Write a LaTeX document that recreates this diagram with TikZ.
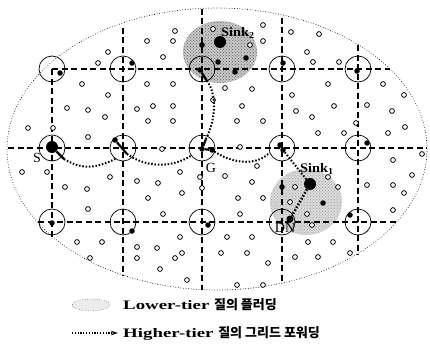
\documentclass[tikz,border=0pt]{standalone}
\usepackage{fontspec}
\setmainfont{Liberation Serif}
\newfontfamily\krfont{Noto Sans CJK KR}
\newfontfamily\widefont{Liberation Serif}[FakeStretch=1.45]
\newfontfamily\sinkfont{Liberation Serif}[FakeStretch=1.1]
\usetikzlibrary{arrows.meta,patterns,shapes.geometric}

\begin{document}
\begin{tikzpicture}[x=1pt,y=-1pt,
    grid/.style={dash pattern=on 6pt off 3.5pt,line width=1.5pt},
    cell/.style={circle,draw,line width=0.7pt,minimum size=26pt,inner sep=0pt},
    host/.style={circle,fill=black,minimum size=5.5pt,inner sep=0pt},
    sink/.style={circle,fill=black,minimum size=12pt,inner sep=0pt},
    hop/.style={line width=2pt,dash pattern=on 1.5pt off 1.8pt},
    stub/.style={line width=2.2pt},
    lbl/.style={font=\fontsize{14}{14}\selectfont,inner sep=0pt},
    snk/.style={anchor=west,inner sep=0pt,font=\fontsize{13}{13}\sinkfont\bfseries},
    leg/.style={anchor=west,inner sep=0pt,font=\fontsize{13}{13}\selectfont\bfseries}]
    \useasboundingbox (0,0) rectangle (430,345);

    \draw[line width=0.9pt,line cap=round,dash pattern=on 0pt off 2.6pt] (217,149) ellipse [x radius=210,y radius=141];

    \fill[gray!45] (220,52) ellipse [x radius=37,y radius=31];
    \fill[pattern=crosshatch dots,pattern color=gray!80!black] (220,52) ellipse [x radius=37,y radius=31];
    \fill[gray!30] (306,202) ellipse [x radius=36,y radius=33];
    \fill[pattern=crosshatch dots,pattern color=gray!70] (306,202) ellipse [x radius=36,y radius=33];

    \draw[grid] (52,69) -- (52,237);
    \draw[grid] (123,28) -- (123,276);
    \draw[grid] (202,9) -- (202,290);
    \draw[grid] (282,18) -- (282,282);
    \draw[grid] (358,45) -- (358,255);
    \draw[grid] (52,69) -- (390,69);
    \draw[grid] (8,148) -- (427,148);
    \draw[grid] (38,222) -- (398,222);

    \foreach \x [count=\i] in {52,123,202,282,358}
      \foreach \y [count=\j] in {69,148,222}
        \node[cell] (c-\j-\i) at (\x,\y) {};

    \foreach \x/\y in {175/31,147/41,173/41,108/52,163/57,98/63,82/84,147/84,173/84,108/95,
        67/108,88/110,105/117,137/109,153/106,173/106,148/121,173/121,28/128,53/128,88/137,
        213/100,225/88,237/121,242/106,213/29,263/25,291/32,319/34,263/41,250/45,307/52,
        313/62,339/62,252/89,328/84,383/84,404/95,292/95,296/111,334/106,367/105,392/111,
        263/121,312/117,405/127,318/133,344/133,388/133,356/123,240/147,
        22/172,47/172,65/187,87/189,110/177,137/181,158/183,180/172,182/193,148/198,88/209,
        163/214,77/242,102/242,90/258,137/247,157/248,137/258,180/237,182/253,175/258,
        160/269,187/280,162/149,200/177,202/188,257/166,225/176,252/182,238/198,263/198,
        240/214,393/160,422/154,412/175,367/185,393/185,404/193,393/210,227/237,252/237,
        221/253,247/253,268/263,295/257,318/257,308/242,333/242,350/253,237/285,263/285,
        295/187,290/202,307/214,312/225,328/177,338/187}
      \draw[line width=0.8pt,fill=white] (\x,\y) circle (2.4pt);

    \foreach \x/\y [count=\k] in {60/73,132/63,283/63,357/71,367/143,52/223,132/231,208/225,
        350/215,202/45,218/62,235/72,246/58,282/187,323/203,280/145}
      \node[host] (h\k) at (\x,\y) {};

    \node[sink] (s) at (52,147) {};
    \node[sink] (k2) at (220,42) {};
    \node[sink] (k1) at (310,184) {};
    \node[host] (a) at (115,140) {};
    \node[host] (g) at (202,149) {};
    \node[host] (g2) at (212,150) {};
    \node[host] (b) at (283,150) {};
    \node[host] (t) at (200,70) {};
    \node[host,minimum size=7pt] (dn) at (290,219) {};

    \coordinate (s1) at (64,159);
    \coordinate (a1) at (127,154);
    \coordinate (g1) at (206,139);
    \coordinate (t1) at (207,81);
    \draw[stub] (s) -- (s1);
    \draw[stub] (a) -- (a1);
    \draw[stub] (g) -- (g2);
    \draw[stub] (g) -- (g1);
    \draw[stub] (t) -- (t1);
    \draw[hop] (s1) .. controls (85,172) and (100,166) .. (c-2-2.235);
    \draw[hop] (a1) .. controls (150,170) and (175,166) .. (c-2-3.215);
    \draw[hop] (g2) .. controls (235,165) and (258,165) .. (c-2-4.200);
    \draw[hop] (g1) .. controls (216,118) and (217,95) .. (t1);
    \draw[hop] (b) -- (k1);
    \draw[hop,line width=2.6pt] (k1) -- (dn);

    \node[lbl] (sl) at (37,158) {S};
    \node[lbl] (gl) at (211,168) {G};
    \node[lbl] (dl) at (285,228) {DN};
    \node[snk] (k2l) at (221,33) {Sink\textsubscript{2}};
    \node[snk] (k1l) at (300,169) {Sink\textsubscript{1}};

    \node[ellipse,draw,dotted,fill=gray!15,minimum width=38pt,minimum height=12pt] (lk) at (91,305) {};
    \node[leg] (lt) at (123,305) {\widefont Lower-tier \krfont 질의 플러딩};
    \coordinate (la) at (72,333);
    \node[leg] (ht) at (123,333) {\widefont Higher-tier \krfont 질의 그리드 포워딩};
    \draw[line width=1.6pt,dash pattern=on 1.2pt off 1.6pt,-{Stealth[length=7pt,width=4.5pt]}] (la) -- ([xshift=-5pt]ht.west);
\end{tikzpicture}
\end{document}
